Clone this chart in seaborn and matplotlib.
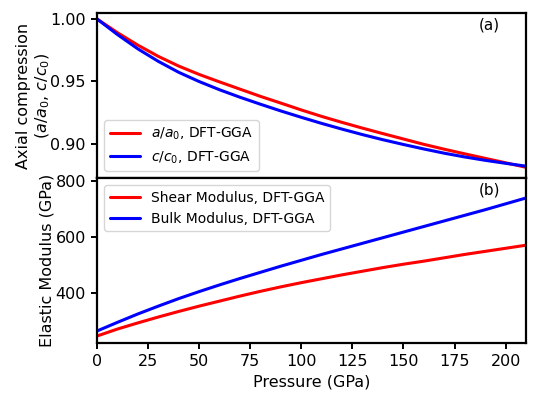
import numpy as np
import pandas as pd
import seaborn as sns
import matplotlib.pyplot as plt

# Pressure grid (GPa)
pressure = [0, 10, 20, 30, 40, 50, 60, 70, 80, 90, 100,
            110, 120, 130, 140, 150, 160, 170, 180, 190, 200, 210]

# (a) axial compression ratios
a_ratio = [1.0000, 0.9890, 0.9790, 0.9700, 0.9622, 0.9555, 0.9495, 0.9437,
           0.9379, 0.9325, 0.9270, 0.9218, 0.9170, 0.9124, 0.9080, 0.9037,
           0.8994, 0.8955, 0.8918, 0.8882, 0.8846, 0.8810]
c_ratio = [1.0000, 0.9875, 0.9760, 0.9660, 0.9572, 0.9498, 0.9432, 0.9372,
           0.9316, 0.9262, 0.9211, 0.9162, 0.9116, 0.9072, 0.9031, 0.8993,
           0.8957, 0.8923, 0.8893, 0.8866, 0.8842, 0.8819]

# (b) elastic moduli (GPa)
shear_mod = [245, 270, 292, 313, 333, 352, 370, 388, 405, 421, 436,
             450, 464, 477, 490, 502, 513, 525, 537, 548, 559, 570]
bulk_mod = [263, 294, 324, 352, 379, 404, 428, 451, 473, 495, 516,
            537, 557, 577, 597, 617, 637, 657, 677, 697, 718, 739]

x_ticks = [0, 25, 50, 75, 100, 125, 150, 175, 200]

sns.set_style("ticks")
plt.rcParams['font.family'] = ['DejaVu Sans']
plt.rcParams['axes.linewidth'] = 1.6
plt.rcParams['axes.edgecolor'] = 'black'
plt.rcParams['axes.labelcolor'] = 'black'
plt.rcParams['text.color'] = 'black'
plt.rcParams['xtick.color'] = 'black'
plt.rcParams['ytick.color'] = 'black'
plt.rcParams['xtick.major.width'] = 1.4
plt.rcParams['ytick.major.width'] = 1.4
plt.rcParams['xtick.major.size'] = 4.5
plt.rcParams['ytick.major.size'] = 4.5

fig, (ax1, ax2) = plt.subplots(2, 1, sharex=True, figsize=(5.5, 4.01), dpi=100)
fig.subplots_adjust(left=0.1764, right=0.9564, top=0.9676, bottom=0.1439, hspace=0)

# Top panel: axial compression
sns.lineplot(x=pressure, y=a_ratio, ax=ax1, color='red', lw=2.2, label=r'$a/a_0$, DFT-GGA')
sns.lineplot(x=pressure, y=c_ratio, ax=ax1, color='blue', lw=2.2, label=r'$c/c_0$, DFT-GGA')
ax1.set_ylim(0.8723, 1.0048)
ax1.set_yticks([0.90, 0.95, 1.00])
ax1.set_yticklabels(['0.90', '0.95', '1.00'])
ax1.set_ylabel('Axial compression\n($a/a_0$, $c/c_0$)', fontsize=11.5, labelpad=-1.5)
ax1.tick_params(axis='y', labelsize=11.5)
ax1.tick_params(axis='x', bottom=False, labelbottom=False)
ax1.legend(loc='lower left', fontsize=10, handlelength=2.2)
ax1.text(0.915, 0.93, '(a)', transform=ax1.transAxes, ha='center', va='center', fontsize=11)

# Bottom panel: elastic moduli
sns.lineplot(x=pressure, y=shear_mod, ax=ax2, color='red', lw=2.2, label='Shear Modulus, DFT-GGA')
sns.lineplot(x=pressure, y=bulk_mod, ax=ax2, color='blue', lw=2.2, label='Bulk Modulus, DFT-GGA')
ax2.set_ylim(219, 810)
ax2.set_yticks([400, 600, 800])
ax2.set_xlim(0, 210)
ax2.set_xticks(x_ticks)
ax2.set_xlabel('Pressure (GPa)', fontsize=11.5)
ax2.set_ylabel('Elastic Modulus (GPa)', fontsize=11.5, labelpad=0.5)
ax2.tick_params(labelsize=11.5)
ax2.legend(loc='upper left', fontsize=10, handlelength=2.2)
ax2.text(0.915, 0.93, '(b)', transform=ax2.transAxes, ha='center', va='center', fontsize=11)

for ax in (ax1, ax2):
    for side in ('top', 'right'):
        ax.spines[side].set_visible(True)

plt.savefig('out.png', dpi=100)
